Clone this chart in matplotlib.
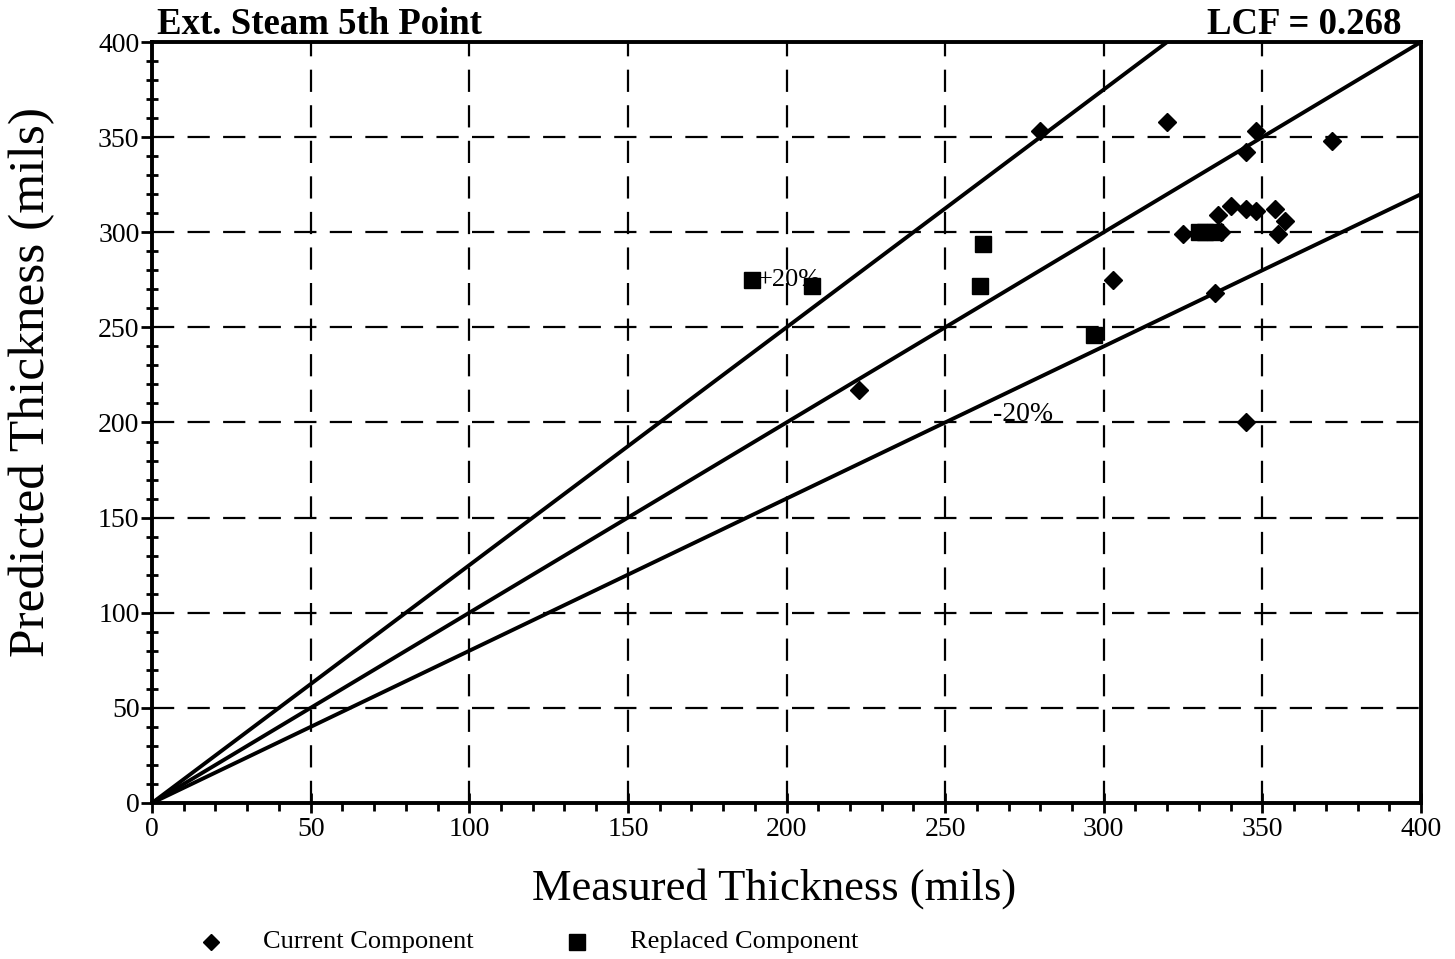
import numpy as np
import matplotlib.pyplot as plt
from matplotlib.ticker import MultipleLocator

plt.rcParams['font.family'] = ['Liberation Serif', 'DejaVu Serif']

# current component (diamonds)
cur_meas = [280, 320, 348, 372, 345, 340, 336, 345, 348, 354, 357, 355, 325, 337, 335, 345, 303, 223]
cur_pred = [353, 358, 353, 348, 342, 314, 309, 312, 311, 312, 306, 299, 299, 300, 268, 200, 275, 217]

# replaced component (squares)
rep_meas = [189, 208, 262, 261, 297, 330, 332, 335]
rep_pred = [275, 272, 294, 272, 246, 300, 300, 300]

# reference lines: +20%, 1:1, -20%
line_slopes = [1.25, 1.0, 0.8]

fig = plt.figure(figsize=(14.55, 9.59), dpi=100)
ax = fig.add_axes([0.1045, 0.1627, 0.8721, 0.7935])

xs = np.array([0, 400])
for k in line_slopes:
    ax.plot(xs, k * xs, color='black', lw=2.8, zorder=2)

ax.plot(cur_meas, cur_pred, 'D', color='black', ms=9.5, zorder=3)
ax.plot(rep_meas, rep_pred, 's', color='black', ms=11.5, zorder=3)

ax.text(191, 275, '+20%', fontsize=19, va='center', ha='left', zorder=4)
ax.text(265, 204, '-20%', fontsize=20, va='center', ha='left', zorder=4)

ax.set_xlim(0, 400)
ax.set_ylim(0, 400)
ax.xaxis.set_major_locator(MultipleLocator(50))
ax.yaxis.set_major_locator(MultipleLocator(50))
ax.xaxis.set_minor_locator(MultipleLocator(10))
ax.yaxis.set_minor_locator(MultipleLocator(10))
ax.tick_params(which='major', direction='out', length=8, width=2, labelsize=20, pad=1)
ax.tick_params(axis='x', which='major', direction='inout', length=14, pad=3)
ax.tick_params(which='minor', direction='out', length=6, width=2)
ax.tick_params(axis='y', which='minor', direction='inout', length=8)

ax.grid(True, which='major', color='black', lw=1.6, linestyle=(0, (10, 6)))
for s in ax.spines.values():
    s.set_linewidth(2.8)

ax.set_xlabel('Measured Thickness (mils)', fontsize=32)
ax.set_ylabel('Predicted Thickness (mils)', fontsize=37)
ax.xaxis.set_label_coords(0.490, -0.085)
ax.yaxis.set_label_coords(-0.076, 0.553)

ax.text(0.004, 1.0, 'Ext. Steam 5th Point', transform=ax.transAxes,
        fontsize=26.5, fontweight='bold', ha='left', va='bottom')
ax.text(0.985, 1.0, 'LCF = 0.268', transform=ax.transAxes,
        fontsize=26.5, fontweight='bold', ha='right', va='bottom')

# legend row under the chart
ly = 1 - 942 / 959
fig.lines.append(plt.Line2D([211 / 1455], [ly], transform=fig.transFigure,
                            marker='D', color='black', ms=8.5, ls=''))
fig.text(263 / 1455, ly, 'Current Component', fontsize=19, va='center')
fig.lines.append(plt.Line2D([577 / 1455], [ly], transform=fig.transFigure,
                            marker='s', color='black', ms=11, ls=''))
fig.text(630 / 1455, ly, 'Replaced Component', fontsize=19, va='center')

fig.savefig('out.png', dpi=100)
